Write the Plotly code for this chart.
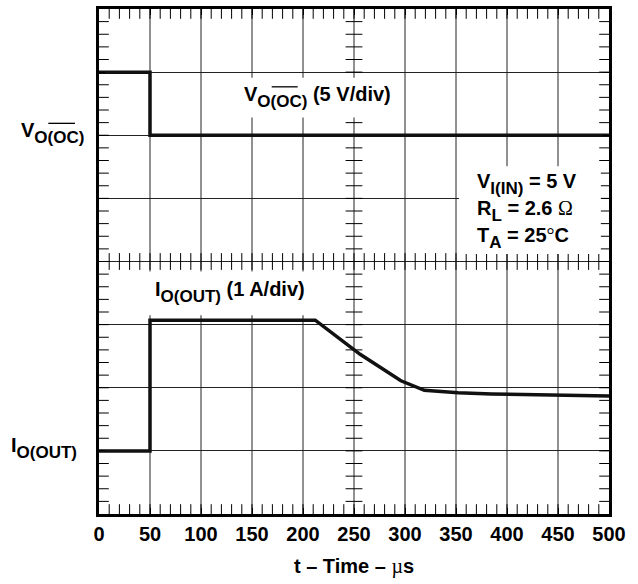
import numpy as np
import plotly.graph_objects as go

# ---- data ----
t_v = [0, 50, 50, 500]                      # time, us
v_oc = [7, 7, 6, 6]                         # divisions
t_i = [0, 50, 50, 212, 256, 296, 319, 352, 385, 440, 500]
i_out = [1, 1, 3.07, 3.07, 2.53, 2.11, 1.96, 1.92, 1.90, 1.88, 1.87]
x_tickvals = [0, 50, 100, 150, 200, 250, 300, 350, 400, 450, 500]
x_ticktext = ["0", "50", "100", "150", "200", "250", "300", "350", "400", "450", "500"]

FONT = "Liberation Sans, Arial, sans-serif"
SUB = "font-size:17px;baseline-shift:-6px"
SYM = "font-family:Liberation Serif;font-weight:normal"

fig = go.Figure()

# vertical graticule lines at the x tick values
gx, gy = [], []
for v in x_tickvals[1:-1]:
    gx += [v, v, None]
    gy += [0, 8, None]
fig.add_trace(go.Scatter(x=gx, y=gy, mode="lines", line=dict(color="#222222", width=1),
                         hoverinfo="skip", showlegend=False))

TICK = dict(size=12, line=dict(width=1, color="black"))
EDGE = dict(size=14, line=dict(width=1, color="black"))

# graticule minor ticks (centre crosses and edge ticks, clipped to plot area)
cx = np.arange(10, 500, 10)
cy = np.arange(0.2, 8, 0.2)
fig.add_trace(go.Scatter(x=cx, y=np.full(cx.shape, 4.0), mode="markers",
                         marker=dict(symbol="line-ns", **TICK), hoverinfo="skip", showlegend=False))
fig.add_trace(go.Scatter(x=np.full(cy.shape, 250.0), y=cy, mode="markers",
                         marker=dict(symbol="line-ew", **TICK), hoverinfo="skip", showlegend=False))
for yy in (0.0, 8.0):
    fig.add_trace(go.Scatter(x=cx, y=np.full(cx.shape, yy), mode="markers", cliponaxis=True,
                             marker=dict(symbol="line-ns", **EDGE), hoverinfo="skip", showlegend=False))
for xx in (0.0, 500.0):
    fig.add_trace(go.Scatter(x=np.full(cy.shape, xx), y=cy, mode="markers", cliponaxis=True,
                             marker=dict(symbol="line-ew", **EDGE), hoverinfo="skip", showlegend=False))

fig.add_trace(go.Scatter(x=t_v, y=v_oc, mode="lines",
                         line=dict(color="#111", width=3.5), showlegend=False))
fig.add_trace(go.Scatter(x=t_i, y=i_out, mode="lines",
                         line=dict(color="#111", width=3.5), showlegend=False))

# white masks behind the text blocks
masks = [(138, 292, 6.28, 6.91), (47, 209, 3.15, 3.84), (353, 492, 4.12, 5.51)]
for x0, x1, y0, y1 in masks:
    fig.add_shape(type="rect", xref="x", yref="y", x0=x0, x1=x1, y0=y0, y1=y1,
                  fillcolor="white", line=dict(width=0), layer="above")

# overlines
fig.add_shape(type="line", xref="paper", yref="paper", x0=0.3386, x1=0.3896, y0=0.8459, y1=0.8459,
              line=dict(color="black", width=1.3), layer="above")
fig.add_shape(type="line", xref="paper", yref="paper", x0=-0.0994, x1=-0.0471, y0=0.7736, y1=0.7736,
              line=dict(color="black", width=1.3), layer="above")

ann = [
    dict(x=214.7, y=6.60, xref="x", yref="y", xanchor="center", yanchor="middle",
         text=f"V<span style='{SUB}'>O(OC)</span> (5 V/div)"),
    dict(x=128.2, y=3.51, xref="x", yref="y", xanchor="center", yanchor="middle",
         text=f"I<span style='{SUB}'>O(OUT)</span> (1 A/div)"),
    dict(x=368.9, y=5.22, xref="x", yref="y", xanchor="left", yanchor="middle",
         text=f"V<span style='{SUB}'>I(IN)</span> = 5 V"),
    dict(x=368.9, y=4.80, xref="x", yref="y", xanchor="left", yanchor="middle",
         text=f"R<span style='{SUB}'>L</span> = 2.6 <span style='{SYM}'>Ω</span>"),
    dict(x=368.9, y=4.38, xref="x", yref="y", xanchor="left", yanchor="middle",
         text=f"T<span style='{SUB}'>A</span> = 25<span style='{SYM}'>°</span>C"),
    dict(x=-0.0255, y=6.04, xref="paper", yref="y", xanchor="right", yanchor="middle",
         text=f"V<span style='{SUB}'>O(OC)</span>"),
    dict(x=-0.0386, y=1.05, xref="paper", yref="y", xanchor="right", yanchor="middle",
         text=f"I<span style='{SUB}'>O(OUT)</span>"),
]
for a in ann:
    a.update(showarrow=False, font=dict(family=FONT, size=20, color="black", weight="bold"))
    fig.add_annotation(**a)

axis_common = dict(showline=True, linewidth=2.5, linecolor="black", mirror="allticks",
                   ticks="inside", ticklen=6, tickwidth=1, tickcolor="black",
                   gridcolor="#222222", gridwidth=1,
                   zeroline=False, fixedrange=True)

fig.update_xaxes(range=[0, 500], tickmode="array", tickvals=x_tickvals, ticktext=x_ticktext,
                 showgrid=False,
                 tickfont=dict(family=FONT, size=20, color="black", weight="bold"),
                 title=dict(text=f"t – Time – <span style='{SYM}'>µ</span>s",
                            font=dict(family=FONT, size=20, color="black", weight="bold"),
                            standoff=16),
                 **axis_common)
fig.update_yaxes(range=[0, 8], dtick=1, showticklabels=False, showgrid=True, **axis_common)

fig.update_layout(width=638, height=584, margin=dict(l=99, r=29, t=6, b=70),
                  paper_bgcolor="white", plot_bgcolor="white",
                  font=dict(family=FONT, size=20, color="black", weight="bold"))

fig.write_html("out.html", config={"displayModeBar": False},
               post_script="document.body.style.margin='0px';")
